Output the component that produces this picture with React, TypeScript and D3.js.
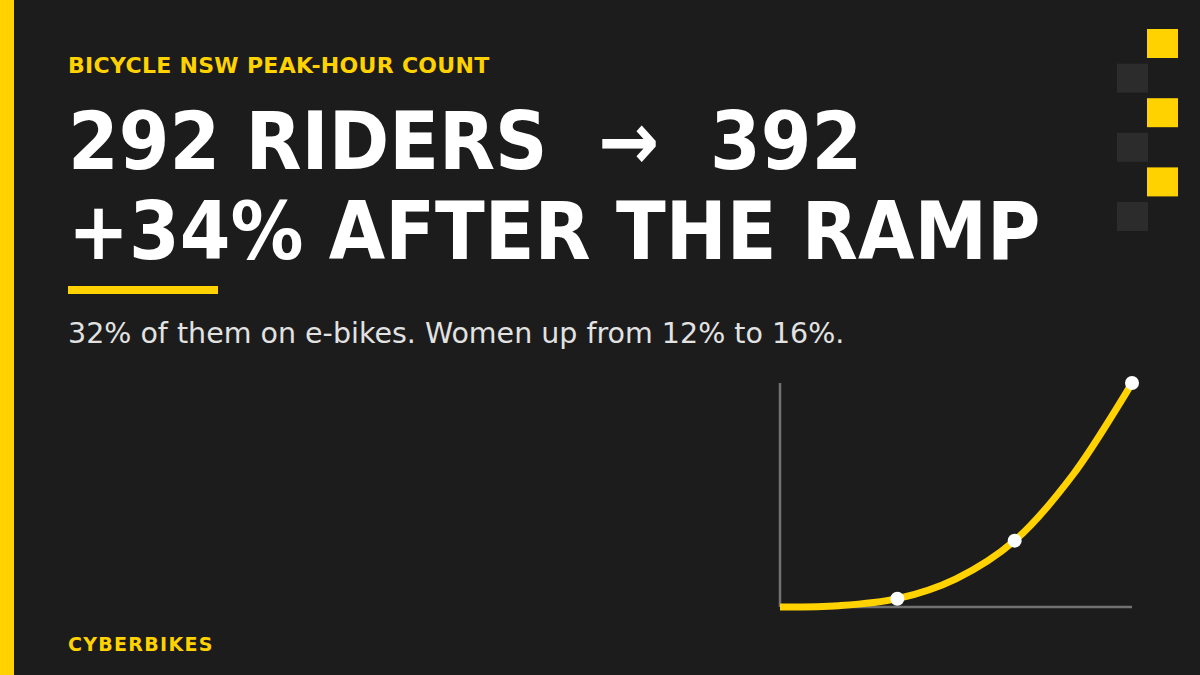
import React from "react";
import * as d3 from "d3";

// curve: step index -> relative count
const stepX = [0, 0.5, 1, 1.5, 2, 2.5, 3];
const stepY = [0, 0.15, 1, 3.4, 8, 16, 27];
const markedSteps = [1, 2, 3];

const kicker = "BICYCLE NSW PEAK-HOUR COUNT";
const titleLines = ["292 RIDERS  \u2192  392", "+34% AFTER THE RAMP"];
const subtitle = "32% of them on e-bikes. Women up from 12% to 16%.";
const footer = "CYBERBIKES";

const W = 1200;
const H = 675;
const YELLOW = "#FFD200";
const BG = "#1c1c1c";
const FONT = "'DejaVu Sans', sans-serif";
const FONT_COND = "'DejaVu Sans Condensed', 'DejaVu Sans', sans-serif";

export default function App() {
    const chart = { left: 780, right: 1132, top: 383, bottom: 607 };

    const x = d3.scaleLinear()
        .domain([0, d3.max(stepX)!])
        .range([chart.left, chart.right]);

    const y = d3.scaleLinear()
        .domain([0, d3.max(stepY)!])
        .range([chart.bottom, chart.top]);

    const pts = stepX.map((v, i) => ({ x: v, y: stepY[i] }));

    const line = d3.line<{ x: number; y: number }>()
        .x(d => x(d.x))
        .y(d => y(d.y))
        .curve(d3.curveCatmullRom.alpha(0.5));

    const dots = pts.filter(d => markedSteps.includes(d.x));

    // decorative squares, top right
    const squares = d3.range(6).map(i => ({
        i,
        yy: 29 + i * 34.6,
        on: i % 2 === 0,
    }));

    return (
        <div style={{ position: "fixed", left: 0, top: 0, width: W, height: H }}>
            <svg width={W} height={H} viewBox={`0 0 ${W} ${H}`} style={{ display: "block" }}>
                <rect width={W} height={H} fill={BG} />
                <rect x={0} y={0} width={14} height={H} fill={YELLOW} />

                {squares.map(s => (
                    <rect
                        key={s.i}
                        x={s.on ? 1147 : 1117}
                        y={s.yy}
                        width={31}
                        height={29}
                        fill={s.on ? YELLOW : "#2c2c2c"}
                    />
                ))}

                <text x={68} y={73} fill={YELLOW} fontFamily={FONT} fontWeight="bold" fontSize={22} letterSpacing={0.3}>
                    {kicker}
                </text>

                {titleLines.map((t, i) => (
                    <text
                        key={i}
                        x={68}
                        y={169 + i * 90}
                        fill="#ffffff"
                        fontFamily={FONT_COND}
                        fontWeight="bold"
                        fontSize={81}
                        style={{ whiteSpace: "pre" }}
                    >
                        {t}
                    </text>
                ))}

                <rect x={68} y={286} width={150} height={8} fill={YELLOW} />

                <text x={68} y={343} fill="#e2e2e2" fontFamily={FONT} fontSize={28.5}>
                    {subtitle}
                </text>

                <text x={68} y={651} fill={YELLOW} fontFamily={FONT} fontWeight="bold" fontSize={19} letterSpacing={1.3}>
                    {footer}
                </text>

                {/* axes */}
                <line x1={chart.left} x2={chart.left} y1={chart.top} y2={chart.bottom} stroke="#717171" strokeWidth={2.5} />
                <line x1={chart.left} x2={chart.right} y1={chart.bottom} y2={chart.bottom} stroke="#717171" strokeWidth={2.5} />

                <path d={line(pts) ?? ""} fill="none" stroke={YELLOW} strokeWidth={7} strokeLinecap="butt" />

                {dots.map((d, i) => (
                    <circle key={i} cx={x(d.x)} cy={y(d.y)} r={7} fill="#ffffff" />
                ))}
            </svg>
        </div>
    );
}
